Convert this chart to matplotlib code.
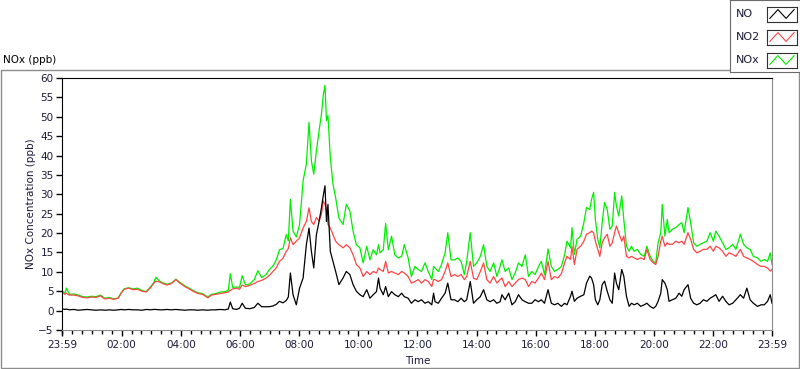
import numpy as np
import matplotlib
matplotlib.use("Agg")
import matplotlib.pyplot as plt
from matplotlib.patches import Rectangle

# hours since 23:59 and concentrations (ppb)
hours = [0.00, 0.10, 0.15, 0.25, 0.40, 0.55, 0.70, 0.85, 1.00, 1.15, 1.30, 1.45, 1.60,
         1.75, 1.90, 2.00, 2.10, 2.25, 2.40, 2.55, 2.70, 2.85, 3.00, 3.10, 3.17, 3.30,
         3.40, 3.55, 3.70, 3.85, 4.00, 4.15, 4.30, 4.45, 4.60, 4.75, 4.93, 5.05, 5.20,
         5.35, 5.50, 5.62, 5.69, 5.77, 5.90, 6.00, 6.09, 6.20, 6.35, 6.50, 6.62, 6.75,
         6.90, 7.00, 7.13, 7.24, 7.35, 7.47, 7.58, 7.65, 7.72, 7.81, 7.92, 8.03, 8.15,
         8.26, 8.35, 8.43, 8.51, 8.60, 8.69, 8.77, 8.83, 8.89, 8.94, 8.99, 9.07, 9.16,
         9.25, 9.36, 9.50, 9.61, 9.73, 9.84, 9.95, 10.07,
         10.18, 10.30, 10.41, 10.52, 10.63, 10.70, 10.75, 10.86, 10.94, 11.03, 11.14, 11.25,
         11.37, 11.48, 11.57, 11.70, 11.81, 11.93, 12.04, 12.15, 12.27, 12.38, 12.50, 12.56,
         12.61, 12.72, 12.83, 12.95, 13.04, 13.15, 13.27, 13.38, 13.49, 13.60,
         13.68, 13.80, 13.91, 14.02, 14.14, 14.25, 14.36, 14.47, 14.59, 14.70, 14.81, 14.87,
         14.98, 15.10, 15.21, 15.32, 15.43, 15.55, 15.66, 15.77, 15.88, 15.99, 16.11, 16.20,
         16.31, 16.43, 16.54, 16.65, 16.76, 16.88, 16.99,
         17.07, 17.19, 17.24, 17.32, 17.41, 17.53, 17.64, 17.73, 17.84, 17.90, 17.97, 18.03,
         18.11, 18.18, 18.26, 18.34, 18.43, 18.52, 18.60, 18.68, 18.74, 18.82, 18.92, 18.99,
         19.08, 19.17, 19.25, 19.34, 19.45, 19.56, 19.68, 19.77, 19.88, 19.99, 20.07, 20.15,
         20.24, 20.29, 20.38,
         20.46, 20.52, 20.63, 20.75, 20.86, 20.95, 21.03, 21.16, 21.25, 21.35, 21.46, 21.57,
         21.68, 21.80, 21.91, 22.02, 22.10, 22.21, 22.33, 22.44, 22.55, 22.67, 22.78, 22.93,
         23.04, 23.15, 23.26, 23.37, 23.51, 23.63, 23.74, 23.85, 23.94, 24.00]

no = [0.5, 0.3, 0.4, 0.2, 0.3, 0.1, 0.2, 0.3, 0.2, 0.1, 0.2, 0.1, 0.2,
      0.1, 0.2, 0.3, 0.2, 0.3, 0.2, 0.2, 0.1, 0.3, 0.2, 0.3, 0.3, 0.2,
      0.2, 0.3, 0.2, 0.3, 0.2, 0.1, 0.2, 0.2, 0.1, 0.2, 0.1, 0.2, 0.2,
      0.3, 0.2, 0.4, 2.2, 0.5, 0.3, 0.6, 1.9, 0.6, 0.5, 0.8, 1.9, 1.0,
      1.0, 1.0, 1.2, 1.6, 2.4, 2.0, 2.6, 3.5, 9.7, 4.1, 1.5, 5.8, 8.4,
      17.0, 21.3, 15.3, 11.0, 19.6, 23.0, 26.5, 29.6, 32.2, 23.0, 27.4, 15.3, 12.7,
      10.1, 6.7, 8.4, 10.1, 9.3, 6.7, 5.0, 4.1,
      3.6, 5.4, 3.2, 4.1, 4.9, 8.4, 5.8, 4.1, 6.2, 3.6, 4.9, 4.1,
      3.6, 4.5, 3.6, 3.2, 1.9, 2.8, 2.3, 2.8, 1.9, 2.3, 1.5, 4.5,
      2.3, 1.9, 3.2, 4.5, 7.1, 2.8, 2.8, 2.3, 3.2, 2.3,
      2.8, 7.5, 1.9, 2.8, 3.6, 5.4, 2.8, 2.3, 2.8, 1.9, 2.3, 4.1,
      2.8, 4.5, 1.5, 2.3, 4.1, 2.8, 2.3, 1.9, 1.9, 2.8, 2.3, 2.8,
      1.9, 5.4, 1.9, 1.5, 1.9, 1.1, 1.9,
      1.5, 3.7, 5.0, 2.4, 3.2, 3.7, 4.1, 7.1, 8.9, 8.4, 6.7, 2.8,
      1.5, 2.8, 6.7, 7.6, 5.0, 2.8, 1.9, 9.7, 7.1, 5.4, 10.6, 8.9,
      3.7, 1.1, 1.9, 1.5, 1.9, 1.1, 1.5, 1.9, 1.1, 0.6, 1.1, 2.4,
      4.5, 8.0, 7.1,
      5.4, 2.4, 2.8, 3.2, 4.5, 3.7, 5.4, 6.7, 3.2, 1.9, 1.5, 1.9,
      2.8, 2.4, 3.2, 3.7, 4.1, 2.4, 3.7, 2.4, 1.5, 1.9, 2.8, 4.1,
      3.2, 5.8, 2.8, 1.9, 1.1, 1.5, 1.5, 2.4, 4.1, 1.9]

no2 = [4.8, 4.2, 4.5, 4.0, 4.0, 3.8, 3.4, 3.3, 3.5, 3.4, 3.8, 3.0, 3.2,
       2.9, 3.2, 4.5, 5.5, 5.8, 5.4, 5.5, 5.0, 4.8, 6.0, 7.0, 7.6, 7.4,
       7.0, 6.6, 7.0, 8.0, 7.0, 6.2, 5.6, 4.9, 4.4, 4.2, 3.3, 4.0, 4.2,
       4.4, 4.6, 4.8, 5.2, 5.6, 5.8, 5.5, 6.6, 6.2, 6.5, 7.0, 7.5, 7.8,
       8.4, 9.0, 10.1, 11.0, 12.7, 13.5, 15.3, 16.0, 18.8, 17.0, 17.9, 18.8, 21.3,
       23.0, 26.5, 23.0, 22.2, 24.0, 23.1, 24.8, 28.3, 27.4, 26.0, 22.2, 21.3, 19.6,
       17.9, 17.0, 16.2, 17.0, 16.2, 14.4, 11.9, 11.0,
       8.8, 10.1, 9.3, 10.1, 9.7, 11.0, 10.6, 10.1, 12.7, 9.7, 10.1, 9.7,
       9.3, 10.1, 9.7, 8.8, 7.1, 7.5, 8.0, 7.1, 8.0, 7.5, 6.2, 8.0,
       8.0, 7.5, 8.0, 10.1, 12.3, 8.8, 9.3, 8.8, 9.3, 8.0,
       8.8, 12.7, 8.4, 8.0, 10.1, 12.3, 8.0, 7.1, 8.8, 7.1, 8.0, 8.4,
       6.2, 7.5, 6.2, 7.1, 8.0, 8.4, 8.0, 6.2, 7.5, 7.1, 8.4, 9.7,
       8.0, 12.7, 8.0, 8.8, 8.4, 9.5, 12.3,
       14.0, 13.2, 16.6, 11.9, 15.8, 16.6, 17.9, 19.7, 20.1, 20.5, 20.1, 17.9,
       15.8, 14.0, 17.5, 18.8, 19.7, 16.6, 17.5, 20.1, 21.8, 20.1, 17.9, 19.2,
       14.0, 13.6, 14.0, 13.6, 13.2, 13.6, 13.2, 15.8, 13.2, 12.3, 11.9, 14.0,
       17.9, 19.2, 16.6,
       17.5, 17.1, 17.1, 17.9, 17.5, 17.9, 17.1, 20.1, 18.4, 15.8, 14.9, 15.3,
       15.8, 15.8, 16.6, 15.3, 16.6, 16.2, 15.3, 14.0, 14.9, 14.5, 14.0, 15.8,
       14.0, 13.6, 13.2, 12.7, 11.9, 11.4, 11.4, 11.0, 10.2, 10.6]

nox = [5.2, 4.5, 5.8, 4.2, 4.3, 4.0, 3.6, 3.5, 3.7, 3.6, 4.0, 3.2, 3.4,
       3.0, 3.3, 4.6, 5.6, 5.9, 5.6, 5.8, 5.2, 4.9, 6.2, 7.2, 8.6, 7.6,
       7.2, 6.8, 7.1, 8.1, 7.2, 6.4, 5.8, 5.1, 4.6, 4.4, 3.5, 4.2, 4.4,
       4.8, 4.9, 5.2, 9.5, 6.0, 6.1, 6.0, 9.0, 6.6, 6.9, 8.0, 10.3, 8.5,
       9.3, 10.5, 11.5, 13.0, 15.7, 16.0, 19.6, 18.0, 28.7, 20.5, 19.0, 22.2, 33.5,
       37.8, 48.6, 38.6, 35.2, 41.2, 46.4, 50.7, 55.5, 58.1, 49.0, 50.3, 39.5, 32.6,
       29.1, 23.9, 22.2, 27.4, 25.7, 20.5, 17.0, 16.2,
       12.3, 16.6, 13.1, 15.7, 14.4, 17.0, 14.9, 15.7, 22.5, 15.7, 19.2, 14.4,
       13.6, 14.0, 17.0, 13.6, 8.8, 11.4, 10.6, 10.1, 12.3, 10.1, 8.0, 11.4,
       11.0, 10.1, 11.9, 14.9, 20.1, 13.1, 13.1, 13.6, 12.7, 9.3,
       12.7, 20.1, 11.4, 12.3, 14.0, 17.0, 11.4, 10.1, 12.3, 8.8, 11.4, 13.1,
       10.1, 11.0, 8.0, 9.7, 12.3, 11.4, 14.4, 8.8, 10.1, 9.3, 11.4, 12.7,
       9.3, 15.9, 11.4, 10.1, 10.6, 11.4, 14.4,
       17.9, 16.2, 21.4, 14.5, 18.4, 19.2, 22.7, 26.6, 26.1, 28.7, 30.5, 23.5,
       18.4, 16.2, 22.7, 27.9, 26.1, 21.0, 21.8, 30.5, 27.0, 24.4, 29.6, 23.5,
       16.6, 15.3, 16.6, 15.3, 15.8, 14.5, 14.0, 16.6, 14.0, 12.7, 12.3, 17.5,
       20.1, 27.4, 19.2,
       23.5, 20.1, 21.0, 21.4, 22.2, 22.7, 20.1, 26.6, 22.7, 17.5, 16.6, 17.1,
       17.5, 17.9, 20.1, 17.9, 20.5, 19.2, 17.5, 15.8, 16.2, 17.1, 15.8, 19.7,
       17.1, 16.2, 15.8, 14.0, 13.6, 12.7, 13.2, 12.7, 14.9, 11.9]

assert len(hours) == len(no) == len(no2) == len(nox)

series_labels = ["NO", "NO2", "NOx"]
series_colors = ["black", "#ff4545", "#00ee00"]

plt.rcParams['font.family'] = ['DejaVu Sans']
text_col = "#1a1a3a"

fig = plt.figure(figsize=(8, 3.69), dpi=100)

# outer panel frame
fig.patches.append(Rectangle((0.5 / 800, 1 - 368 / 369), 798.5 / 800, 298.5 / 369,
                             transform=fig.transFigure, fill=False,
                             edgecolor="#8c8c8c", linewidth=1.0, zorder=-1))
fig.text(3 / 800, 1 - 63 / 369, "NOx (ppb)", fontsize=7.5, color="black", va="baseline")

ax = fig.add_axes([62 / 800, 1 - 330 / 369, 710 / 800, 252 / 369])
ax.plot(hours, nox, color=series_colors[2], lw=0.9)
ax.plot(hours, no2, color=series_colors[1], lw=0.9)
ax.plot(hours, no, color=series_colors[0], lw=0.9)

ax.set_xlim(0, 24)
ax.set_ylim(-5, 60)
ax.set_yticks(range(-5, 61, 5))
major = [0] + [h + 1 / 60 for h in range(2, 23, 2)] + [24]
ax.set_xticks(major)
ax.set_xticklabels(["23:59"] + [f"{h:02d}:00" for h in range(2, 23, 2)] + ["23:59"])
ax.set_xticks(np.arange(1 / 60, 24, 1 / 3), minor=True)
ax.tick_params(axis="both", which="major", labelsize=7.5, length=4, width=1,
               colors="black", labelcolor=text_col, pad=2)
ax.tick_params(axis="x", which="minor", length=3, width=1, color="black")
ax.tick_params(axis="x", which="major", length=4, pad=3)

for s in ["top", "left"]:
    ax.spines[s].set_color("black")
for s in ["bottom", "right"]:
    ax.spines[s].set_color("#8c8c8c")

fig.text(31 / 800, 1 - 204 / 369, "NOx Concentration (ppb)", rotation=90,
         fontsize=7.5, color=text_col, ha="center", va="center")
fig.text(418 / 800, 1 - 361 / 369, "Time", fontsize=7.5, color=text_col,
         ha="center", va="center")

# legend panel
leg_bg = fig.add_axes([730 / 800, 1 - 72 / 369, 69.5 / 800, 72 / 369])
leg_bg.set_xticks([])
leg_bg.set_yticks([])
for sp in leg_bg.spines.values():
    sp.set_color("#6a6a6a")
for i, (lab, col) in enumerate(zip(series_labels, series_colors)):
    yc = 14 + i * 23
    fig.text(736 / 800, 1 - yc / 369, lab, fontsize=8, color=text_col,
             va="center", ha="left", zorder=6)
    lax = fig.add_axes([767 / 800, 1 - (yc + 7.5) / 369, 30 / 800, 15 / 369])
    lax.plot([0, 1, 2, 3], [0, 1, 0, 1], color=col, lw=0.8)
    lax.set_xlim(-0.35, 3.35)
    lax.set_ylim(-0.35, 1.35)
    lax.set_xticks([])
    lax.set_yticks([])
    for sp in lax.spines.values():
        sp.set_color("#303030")

fig.savefig("out.png", dpi=100)
